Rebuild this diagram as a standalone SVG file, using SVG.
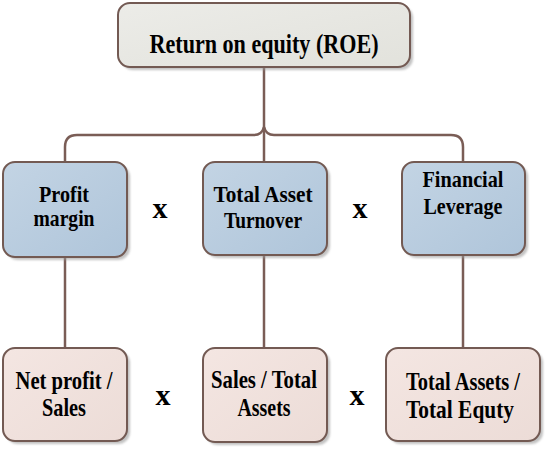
<svg xmlns="http://www.w3.org/2000/svg" width="545" height="449" viewBox="0 0 545 449">
<defs>
<linearGradient id="gTop" x1="0" y1="0" x2="1" y2="1">
<stop offset="0" stop-color="#ecece8"/><stop offset="1" stop-color="#e2e2dc"/>
</linearGradient>
<linearGradient id="gBlue" x1="0" y1="0" x2="1" y2="1">
<stop offset="0" stop-color="#c3d4e4"/><stop offset="1" stop-color="#afc5da"/>
</linearGradient>
<linearGradient id="gPink" x1="0" y1="0" x2="1" y2="1">
<stop offset="0" stop-color="#f4e6e2"/><stop offset="1" stop-color="#ecdcd7"/>
</linearGradient>
<filter id="sh" x="-10%" y="-10%" width="130%" height="130%">
<feGaussianBlur stdDeviation="1.2"/>
</filter>
</defs>
<style>
.box{stroke:#735a53;stroke-width:2}
.shadow{fill:#9a9a9a;opacity:0.6;filter:url(#sh)}
.t{font-family:"Liberation Serif","Times New Roman",serif;font-weight:bold;fill:#000;text-anchor:middle}
.m{font-size:24px}
.b{font-size:25px}
.x{font-size:30px}
.con{fill:none;stroke:#7a5d56;stroke-width:2.5}
</style>
<rect width="545" height="449" fill="#ffffff"/>
<g id="connectors">
<path class="con" d="M264,67 V162"/>
<path class="con" d="M264,127 Q262,135 254,135 H77 Q65,135 65,147 V162"/>
<path class="con" d="M264,127 Q266,135 274,135 H451 Q463,135 463,147 V162"/>
<path class="con" d="M65,257 V348"/>
<path class="con" d="M264,255 V348"/>
<path class="con" d="M463,255 V348"/>
</g>
<g id="roe">
<rect class="shadow" x="121" y="6" width="292" height="64" rx="12"/>
<rect class="box" x="118" y="3" width="292" height="64" rx="12" fill="url(#gTop)"/>
<text class="t" x="264" y="53" font-size="27" textLength="229" lengthAdjust="spacingAndGlyphs">Return on equity (ROE)</text>
</g>
<g id="profit-margin">
<rect class="shadow" x="6" y="165" width="124" height="95" rx="12"/>
<rect class="box" x="3" y="162" width="124" height="95" rx="12" fill="url(#gBlue)"/>
<text class="t m" x="64" y="202" textLength="50" lengthAdjust="spacingAndGlyphs">Profit</text>
<text class="t m" x="64" y="226" textLength="61" lengthAdjust="spacingAndGlyphs">margin</text>
</g>
<g id="asset-turnover">
<rect class="shadow" x="206" y="165" width="124" height="93" rx="12"/>
<rect class="box" x="203" y="162" width="124" height="93" rx="12" fill="url(#gBlue)"/>
<text class="t m" x="263" y="202" textLength="99" lengthAdjust="spacingAndGlyphs">Total Asset</text>
<text class="t m" x="263" y="228" textLength="78" lengthAdjust="spacingAndGlyphs">Turnover</text>
</g>
<g id="financial-leverage">
<rect class="shadow" x="405" y="165" width="123" height="93" rx="12"/>
<rect class="box" x="402" y="162" width="123" height="93" rx="12" fill="url(#gBlue)"/>
<text class="t m" x="463" y="187" textLength="81" lengthAdjust="spacingAndGlyphs">Financial</text>
<text class="t m" x="463" y="214" textLength="79" lengthAdjust="spacingAndGlyphs">Leverage</text>
</g>
<g id="net-profit-sales">
<rect class="shadow" x="6" y="351" width="124" height="93" rx="12"/>
<rect class="box" x="3" y="348" width="124" height="93" rx="12" fill="url(#gPink)"/>
<text class="t b" x="64" y="389" textLength="97" lengthAdjust="spacingAndGlyphs">Net profit /</text>
<text class="t b" x="64" y="416" textLength="44" lengthAdjust="spacingAndGlyphs">Sales</text>
</g>
<g id="sales-total-assets">
<rect class="shadow" x="206" y="351" width="124" height="94" rx="12"/>
<rect class="box" x="203" y="348" width="124" height="94" rx="12" fill="url(#gPink)"/>
<text class="t b" x="264" y="388" textLength="106" lengthAdjust="spacingAndGlyphs">Sales / Total</text>
<text class="t b" x="264" y="416" textLength="53" lengthAdjust="spacingAndGlyphs">Assets</text>
</g>
<g id="assets-equity">
<rect class="shadow" x="389" y="351" width="154" height="93" rx="12"/>
<rect class="box" x="386" y="348" width="154" height="93" rx="12" fill="url(#gPink)"/>
<text class="t b" x="463" y="390" textLength="114" lengthAdjust="spacingAndGlyphs">Total Assets /</text>
<text class="t b" x="460" y="418" textLength="108" lengthAdjust="spacingAndGlyphs">Total Equty</text>
</g>
<g id="operators">
<text class="t x" x="160" y="218">x</text>
<text class="t x" x="360" y="218">x</text>
<text class="t x" x="163" y="405">x</text>
<text class="t x" x="357" y="405">x</text>
</g>
</svg>
